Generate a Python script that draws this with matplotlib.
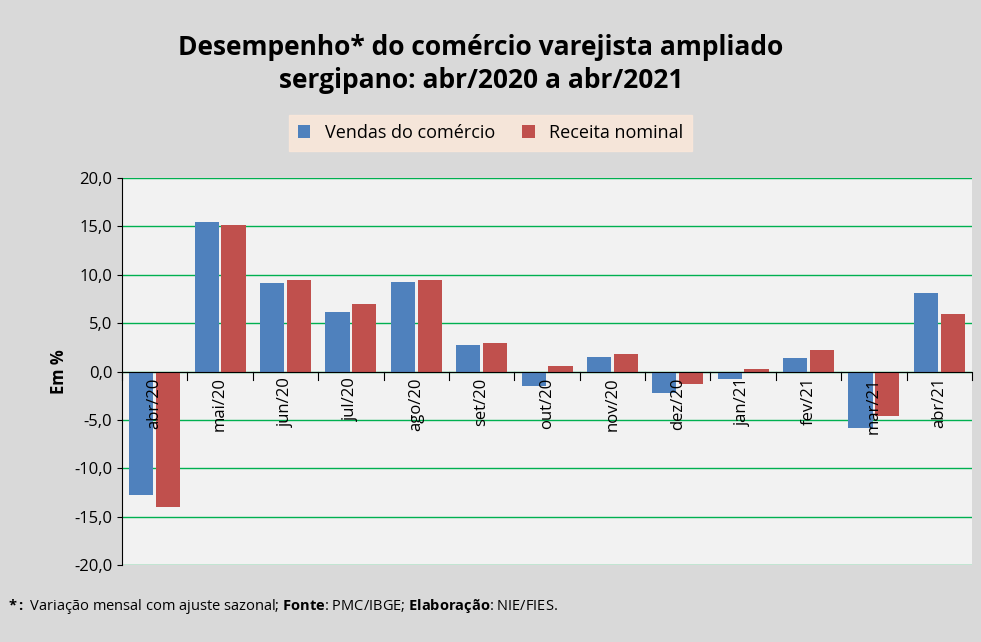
import matplotlib.pyplot as plt
import numpy as np

meses = ["abr/20", "mai/20", "jun/20", "jul/20", "ago/20", "set/20", "out/20",
         "nov/20", "dez/20", "jan/21", "fev/21", "mar/21", "abr/21"]
vendas = [-12.8, 15.5, 9.1, 6.1, 9.3, 2.7, -1.5, 1.5, -2.2, -0.8, 1.4, -5.8, 8.1]
receita = [-14.0, 15.1, 9.5, 7.0, 9.5, 2.9, 0.6, 1.8, -1.3, 0.3, 2.2, -4.6, 5.9]

plt.rcParams["font.family"] = ["Open Sans", "DejaVu Sans"]
plt.rcParams["mathtext.fontset"] = "custom"
plt.rcParams["mathtext.rm"] = "Open Sans"
plt.rcParams["mathtext.bf"] = "Open Sans:bold"

fig = plt.figure(figsize=(9.81, 6.42), dpi=100, facecolor="#d9d9d9")
ax = fig.add_axes([122 / 981, 1 - 565 / 642, 850 / 981, 387 / 642])
ax.set_facecolor("#f2f2f2")

x = np.arange(len(meses))
w = 0.37
ax.bar(x - w / 2 - 0.02, vendas, w, color="#4f81bd", label="Vendas do comércio", zorder=3)
ax.bar(x + w / 2 + 0.02, receita, w, color="#c0504d", label="Receita nominal", zorder=3)

ax.set_xlim(-0.5, len(meses) - 0.5)
ax.set_ylim(-20, 20)
ax.set_yticks(np.arange(-20, 21, 5))
ax.set_yticklabels([f"{v:.1f}".replace(".", ",") for v in np.arange(-20, 21, 5)], fontsize=12)
ax.yaxis.grid(True, color="#00b050", linewidth=1, zorder=0)
ax.axhline(0, color="black", linewidth=0.8, zorder=4)
for s in ["top", "right", "bottom"]:
    ax.spines[s].set_visible(False)
ax.spines["left"].set_color("black")

ax.set_xticks([])
for i in range(len(meses) + 1):
    ax.plot([i - 0.5, i - 0.5], [0, -0.9], color="black", lw=0.8, zorder=4, clip_on=False)
for i, m in enumerate(meses):
    ax.text(i, -0.6, m, rotation=90, ha="center", va="top", fontsize=12, zorder=5)

ax.set_ylabel("Em %", fontsize=12, fontweight="bold")

fig.text(0.49, 0.9, "Desempenho* do comércio varejista ampliado\nsergipano: abr/2020 a abr/2021",
         ha="center", va="center", fontsize=19, fontweight="bold", linespacing=1.3)

leg = fig.legend(loc="center", bbox_to_anchor=(0.5, 0.793), ncol=2, fontsize=13,
                 frameon=True, fancybox=False, handlelength=0.7, handleheight=0.7,
                 columnspacing=1.5, borderpad=0.5)
leg.get_frame().set_facecolor("#fde9d9")
leg.get_frame().set_edgecolor("#fde9d9")

fig.text(0.008, 0.055, r"$\bf{*:}$ Variação mensal com ajuste sazonal; $\bf{Fonte}$: PMC/IBGE; $\bf{Elaboração}$: NIE/FIES.",
         fontsize=10.5, ha="left", va="center")

fig.savefig("out.png", dpi=100, facecolor=fig.get_facecolor())
